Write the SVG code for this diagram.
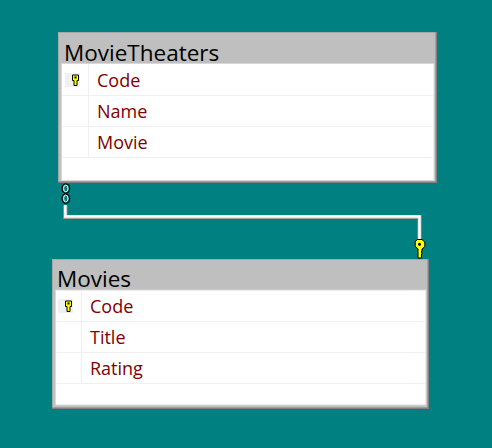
<svg xmlns="http://www.w3.org/2000/svg" width="492" height="448" viewBox="0 0 492 448">
<style>
.frame{fill:#bfbfbf}
.edgeD{fill:none;stroke:#808080;stroke-width:1.500}
.edgeL{fill:none;stroke:#a8a8a8;stroke-width:1}
.body{fill:#fff;stroke:#d8d8d8;stroke-width:1}
.sep{stroke:#f0f0f0;stroke-width:1;fill:none}
.title{font-family:"Open Sans","Noto Sans",sans-serif;font-size:22.500px;fill:#000}
.field{font-family:"Open Sans","Noto Sans",sans-serif;font-size:18px;fill:#800000}
.icon{fill:#f0f0f0}
.key{fill:#ffff00;stroke:#000;stroke-width:1}
.lnkB{fill:none;stroke:#a0a0a0;stroke-width:4}
.lnk{fill:none;stroke:#fff;stroke-width:2.500}
.zero{fill:#008080;stroke:#000;stroke-width:1.300}
.zeroI{fill:none;stroke:#fff;stroke-width:1}
</style>
<defs>
<g id="smallKey"><path class="key" d="M-3-5h6v5.500h-1.500v5h-3v-5h-1.500z"/><rect x="-1" y="-3.500" width="2" height="2" fill="#000"/></g>
</defs>
<rect width="492" height="448" fill="#008080"/>
<g id="connectors">
<path class="lnkB" d="M65.300 205V217H419.500V240"/>
<path class="lnk" d="M65.300 205V216.500H419.500V240"/>
<ellipse class="zero" cx="65.800" cy="188.500" rx="3.800" ry="4.600"/><ellipse class="zeroI" cx="65.800" cy="188.500" rx="2.200" ry="3.400"/>
<ellipse class="zero" cx="65.800" cy="198.500" rx="3.800" ry="4.600"/><ellipse class="zeroI" cx="65.800" cy="198.500" rx="2.200" ry="3.400"/>
<path d="M417 239.500h5l2.800 2.500v4.500l-2.800 2.500v2h-.5v1.500h.5v1.500h-.5v4h-3.500v-9l-2.800-2.500v-4.500z" fill="#ffff00" stroke="#000" stroke-width="1"/>
<circle cx="419.500" cy="244.300" r="1.500" fill="#000"/>
</g>
<g id="MovieTheaters">
<rect class="frame" x="58" y="32" width="379" height="151"/>
<path class="edgeL" d="M58.500 183V32.500H436.500"/>
<path class="edgeD" d="M436.300 32V182.300H58"/>
<rect class="body" x="61.500" y="63.500" width="372.500" height="117"/>
<path class="sep" d="M62 95.500H433.500M62 126.500H433.500M62 157.500H433.500M88.500 64V157"/>
<rect class="icon" x="65" y="73" width="15" height="14"/>
<use href="#smallKey" x="75.500" y="80"/>
<text class="title" x="64" y="61">MovieTheaters</text>
<text class="field" x="97" y="87">Code</text>
<text class="field" x="97" y="118">Name</text>
<text class="field" x="97" y="149">Movie</text>
</g>
<g id="Movies">
<rect class="frame" x="52" y="259" width="377" height="150"/>
<path class="edgeL" d="M52.500 409V259.500H428.500"/>
<path class="edgeD" d="M428.300 259V408.300H52"/>
<rect class="body" x="55.500" y="290" width="370.500" height="115"/>
<path class="sep" d="M56 321.500H425.500M56 352.500H425.500M56 383.500H425.500M81.500 291V383"/>
<rect class="icon" x="58" y="299" width="15" height="14"/>
<use href="#smallKey" x="68.500" y="306"/>
<text class="title" x="57" y="287">Movies</text>
<text class="field" x="90" y="313">Code</text>
<text class="field" x="90" y="344">Title</text>
<text class="field" x="90" y="375">Rating</text>
</g>
</svg>
